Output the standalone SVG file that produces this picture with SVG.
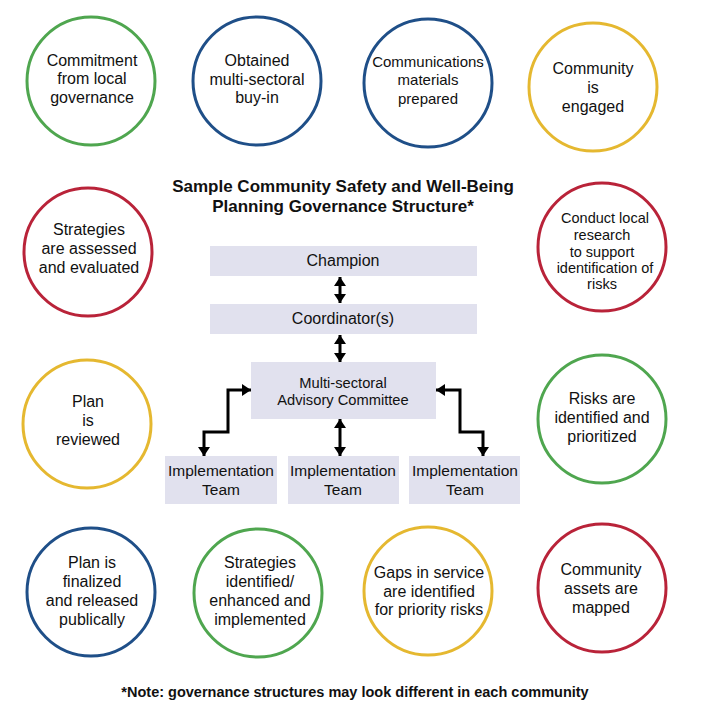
<svg xmlns="http://www.w3.org/2000/svg" width="715" height="725" viewBox="0 0 715 725">
<style>
.c{fill:#fff;stroke-width:3}
.g{stroke:#4fa64f}
.b{stroke:#1f4f88}
.y{stroke:#e5b830}
.r{stroke:#b92339}
.t{font-family:"Liberation Sans",Arial,sans-serif;font-size:16px;fill:#111;text-anchor:middle}
.box{fill:#e1e1ee}
.bt{font-size:15.5px}
.h{font-family:"Liberation Sans",Arial,sans-serif;font-size:17px;font-weight:bold;fill:#111;text-anchor:middle}
.a{fill:none;stroke:#000;stroke-width:3;marker-start:url(#ah);marker-end:url(#ah)}
</style>
<defs>
<marker id="ah" viewBox="0 0 9 12" refX="9" refY="6" markerWidth="9" markerHeight="12" markerUnits="userSpaceOnUse" orient="auto-start-reverse">
<path d="M0,0 L9,6 L0,12 z" fill="#000"/>
</marker>
</defs>
<rect width="715" height="725" fill="#fff"/>

<g id="n1"><circle class="c g" cx="91" cy="81" r="64"/><text class="t"><tspan x="92" y="66">Commitment</tspan><tspan x="92" y="84">from local</tspan><tspan x="92" y="103">governance</tspan></text></g>
<g id="n2"><circle class="c b" cx="257" cy="81" r="64"/><text class="t"><tspan x="257" y="66">Obtained</tspan><tspan x="257" y="85">multi-sectoral</tspan><tspan x="257" y="103">buy-in</tspan></text></g>
<g id="n3"><circle class="c b" cx="428" cy="83" r="64"/><text class="t" style="font-size:15px"><tspan x="428" y="67">Communications</tspan><tspan x="428" y="85">materials</tspan><tspan x="428" y="104">prepared</tspan></text></g>
<g id="n4"><circle class="c y" cx="593" cy="87" r="64"/><text class="t"><tspan x="593" y="74">Community</tspan><tspan x="593" y="93">is</tspan><tspan x="593" y="112">engaged</tspan></text></g>

<g id="n5"><circle class="c r" cx="88" cy="252" r="64"/><text class="t"><tspan x="89" y="235">Strategies</tspan><tspan x="89" y="254">are assessed</tspan><tspan x="89" y="273">and evaluated</tspan></text></g>
<g id="n6"><circle class="c r" cx="602" cy="247" r="64"/><text class="t" style="font-size:14.5px"><tspan x="605" y="223">Conduct local</tspan><tspan x="602" y="240">research</tspan><tspan x="602" y="257">to support</tspan><tspan x="605" y="273">identification of</tspan><tspan x="602" y="289">risks</tspan></text></g>
<g id="n7"><circle class="c y" cx="87" cy="424" r="64"/><text class="t"><tspan x="88" y="407">Plan</tspan><tspan x="88" y="426">is</tspan><tspan x="88" y="445">reviewed</tspan></text></g>
<g id="n8"><circle class="c g" cx="602" cy="419" r="64"/><text class="t"><tspan x="602" y="404">Risks are</tspan><tspan x="602" y="423">identified and</tspan><tspan x="602" y="442">prioritized</tspan></text></g>

<g id="n9"><circle class="c b" cx="91" cy="592" r="64"/><text class="t"><tspan x="92" y="568">Plan is</tspan><tspan x="92" y="587">finalized</tspan><tspan x="92" y="606">and released</tspan><tspan x="92" y="625">publically</tspan></text></g>
<g id="n10"><circle class="c g" cx="258" cy="593" r="64"/><text class="t"><tspan x="260" y="568">Strategies</tspan><tspan x="260" y="587">identified/</tspan><tspan x="260" y="606">enhanced and</tspan><tspan x="260" y="625">implemented</tspan></text></g>
<g id="n11"><circle class="c y" cx="428" cy="591" r="64"/><text class="t"><tspan x="429" y="578">Gaps in service</tspan><tspan x="429" y="597">are identified</tspan><tspan x="429" y="615">for priority risks</tspan></text></g>
<g id="n12"><circle class="c r" cx="602" cy="588" r="64"/><text class="t"><tspan x="601" y="575">Community</tspan><tspan x="601" y="594">assets are</tspan><tspan x="601" y="613">mapped</tspan></text></g>

<g id="title"><text class="h"><tspan x="343" y="192">Sample Community Safety and Well-Being</tspan><tspan x="343" y="212">Planning Governance Structure*</tspan></text></g>

<g id="champion"><rect class="box" x="210" y="246" width="267" height="30"/><text class="t" x="343" y="266">Champion</text></g>
<g id="coordinator"><rect class="box" x="210" y="304" width="267" height="30"/><text class="t" x="343" y="324">Coordinator(s)</text></g>
<g id="committee"><rect class="box" x="251" y="362" width="185" height="57"/><text class="t" style="font-size:14.7px"><tspan x="343" y="388">Multi-sectoral</tspan><tspan x="343" y="405">Advisory Committee</tspan></text></g>
<g id="team1"><rect class="box" x="165" y="456" width="112" height="48"/><text class="t bt"><tspan x="221" y="476">Implementation</tspan><tspan x="221" y="495">Team</tspan></text></g>
<g id="team2"><rect class="box" x="288" y="456" width="111" height="48"/><text class="t bt"><tspan x="343" y="476">Implementation</tspan><tspan x="343" y="495">Team</tspan></text></g>
<g id="team3"><rect class="box" x="409" y="456" width="111" height="48"/><text class="t bt"><tspan x="465" y="476">Implementation</tspan><tspan x="465" y="495">Team</tspan></text></g>

<g id="connectors">
<path class="a" d="M340,277 V303"/>
<path class="a" d="M340,335 V362"/>
<path class="a" d="M340,419 V456"/>
<path class="a" d="M251,390 H228 V432 H204 V456"/>
<path class="a" d="M436,390 H460 V432 H483 V456"/>
</g>

<g id="note"><text class="h" style="font-size:14.5px" x="355" y="697">*Note: governance structures may look different in each community</text></g>
</svg>
